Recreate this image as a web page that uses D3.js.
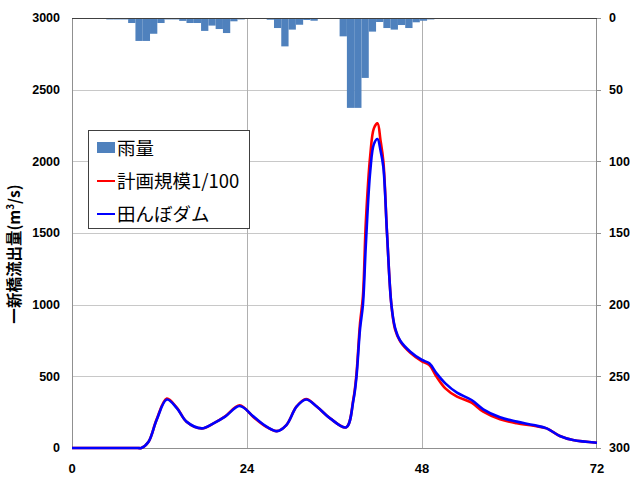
<!DOCTYPE html>
<html><head><meta charset="utf-8">
<script src="https://cdn.jsdelivr.net/npm/d3@7"></script>
<style>
body{margin:0;background:#fff;}
svg{display:block;}
</style></head>
<body>
<svg id="chart" width="630" height="477"></svg>
<script>
// ---- data ----
const seriesNames = ["雨量", "計画規模1/100", "田んぼダム"];
const hours = [0, 9, 9.5, 10.5, 11.6, 13, 14.4, 15.7, 17.8, 19.4, 21, 23, 24.9, 26.7, 28.1, 29.4, 30.8, 32.1, 33.6, 35.4, 37.6, 38.6, 39, 39.5, 39.9, 40.3, 40.9, 41.4, 41.9, 42.3, 42.7, 43.2, 43.8, 44.3, 45, 46.4, 48, 49, 50, 51.2, 52.8, 54.8, 56.4, 58.7, 61, 63.3, 65.1, 66.9, 68.7, 72];
const planFlow = [0, 0, 0, 44, 198, 345, 280, 184, 137, 172, 221, 298, 215, 146, 118, 160, 290, 342, 288, 207, 144, 345, 510, 870, 1060, 1580, 2040, 2230, 2265, 2150, 2000, 1500, 1000, 830, 745, 665, 605, 579, 497, 416, 358, 316, 253, 200, 172, 155, 137, 84, 56, 37];
const paddyFlow = [0, 0, 0, 44, 195, 338, 277, 184, 137, 172, 219, 293, 219, 149, 118, 160, 288, 338, 288, 207, 144, 335, 490, 830, 1000, 1420, 1930, 2120, 2156, 2080, 1960, 1500, 1000, 840, 750, 672, 614, 591, 521, 451, 386, 335, 270, 214, 184, 160, 137, 84, 56, 37];
const rainHours = [5, 6, 7, 8, 9, 10, 11, 12, 13, 14, 15, 16, 17, 18, 19, 20, 21, 22, 23, 27, 28, 29, 30, 31, 32, 33, 34, 35, 36, 37, 38, 39, 40, 41, 42, 43, 44, 45, 46, 47, 48, 49];
const rainfall = [1, 1, 1, 3.5, 16, 16, 11, 3.5, 1, 1, 2, 3.5, 3.5, 9, 5.3, 7.7, 10.5, 2.3, 1, 1.2, 7, 19.8, 8.1, 4.7, 1.4, 1.9, 0.7, 0.5, 0.5, 12.8, 62.7, 62.7, 41.8, 9.5, 2.8, 7, 8.1, 4.9, 7, 3, 1.9, 1];
const xTicks = [0, 24, 48, 72];
const yTicks = [0, 500, 1000, 1500, 2000, 2500, 3000];
const rainTicks = [0, 50, 100, 150, 200, 250, 300];

// ---- layout ----
const L = 72, R = 597, T = 18, B = 448;
const svg = d3.select("#chart");
const x = d3.scaleLinear().domain([0, 72]).range([L, R]);
const y = d3.scaleLinear().domain([0, 3000]).range([B, T]);
const yr = d3.scaleLinear().domain([0, 300]).range([T, B]);
const numFont = "'Liberation Sans', Arial, sans-serif";
const jpFont = "'Noto Sans CJK JP', sans-serif";

// gridlines
const g = svg.append("g");
g.selectAll("line.h").data(yTicks.filter(d => d > 0 && d < 3000)).join("line")
  .attr("x1", L).attr("x2", R).attr("y1", d => Math.round(y(d)) + 0.5).attr("y2", d => Math.round(y(d)) + 0.5)
  .attr("stroke", "#c8c8c8").attr("stroke-width", 1);
g.selectAll("line.v").data(xTicks.filter(d => d > 0 && d < 72)).join("line")
  .attr("x1", d => Math.round(x(d)) + 0.5).attr("x2", d => Math.round(x(d)) + 0.5).attr("y1", T).attr("y2", B)
  .attr("stroke", "#b0b0b0").attr("stroke-width", 1);

// rain bars (hanging from top)
svg.append("g").selectAll("rect").data(rainHours.map((h, i) => ({h, v: rainfall[i]}))).join("rect")
  .attr("x", d => x(d.h - 0.3))
  .attr("width", d => x(d.h + 0.7) - x(d.h - 0.3))
  .attr("y", yr(0))
  .attr("height", d => yr(d.v) - yr(0))
  .attr("fill", "#4f81bd");

// axes lines
svg.append("line").attr("x1", L + 0.5).attr("x2", L + 0.5).attr("y1", T).attr("y2", B).attr("stroke", "#909090");
svg.append("line").attr("x1", R - 0.5).attr("x2", R - 0.5).attr("y1", T).attr("y2", B).attr("stroke", "#909090");
svg.append("line").attr("x1", L).attr("x2", R).attr("y1", B + 0.5).attr("y2", B + 0.5).attr("stroke", "#909090");
svg.append("line").attr("x1", L).attr("x2", R).attr("y1", T + 0.5).attr("y2", T + 0.5).attr("stroke", "#404040");
// right axis outward ticks
svg.append("g").selectAll("line").data(rainTicks).join("line")
  .attr("x1", R).attr("x2", R + 4).attr("y1", d => Math.round(yr(d)) + 0.5).attr("y2", d => Math.round(yr(d)) + 0.5)
  .attr("stroke", "#909090");

// lines
const line = (vals) => d3.line().x((d, i) => x(hours[i])).y(d => y(d)).curve(d3.curveCatmullRom.alpha(0.5))(vals);
svg.append("path").attr("d", line(planFlow)).attr("fill", "none").attr("stroke", "#ff0000").attr("stroke-width", 2.6);
svg.append("path").attr("d", line(paddyFlow)).attr("fill", "none").attr("stroke", "#0000ff").attr("stroke-width", 2.6);

// tick labels
svg.append("g").selectAll("text").data(yTicks).join("text")
  .attr("x", 60).attr("y", d => y(d)).attr("dy", "0.35em").attr("text-anchor", "end")
  .attr("font-family", numFont).attr("font-weight", "bold").attr("font-size", 12.5).attr("fill", "#000")
  .text(d => d);
svg.append("g").selectAll("text").data(rainTicks).join("text")
  .attr("x", 609).attr("y", d => yr(d)).attr("dy", "0.35em").attr("text-anchor", "start")
  .attr("font-family", numFont).attr("font-weight", "bold").attr("font-size", 12.5).attr("fill", "#000")
  .text(d => d);
svg.append("g").selectAll("text").data(xTicks).join("text")
  .attr("x", d => x(d)).attr("y", 468).attr("dy", "0.35em").attr("text-anchor", "middle")
  .attr("font-family", numFont).attr("font-weight", "900").attr("font-size", 13).attr("fill", "#000")
  .text(d => d);

// y title
const yt = svg.append("text").attr("transform", "translate(20,254) rotate(-90)")
  .attr("text-anchor", "middle").attr("font-family", jpFont).attr("font-weight", "bold")
  .attr("font-size", 15.5).attr("fill", "#000");
yt.append("tspan").text("一新橋流出量(m");
yt.append("tspan").attr("font-size", 10).attr("dy", -6).text("3");
yt.append("tspan").attr("dy", 6).text("/s)");

// legend
const lg = svg.append("g");
lg.append("rect").attr("x", 88.5).attr("y", 130.5).attr("width", 161).attr("height", 98)
  .attr("fill", "#fff").attr("stroke", "#404040").attr("stroke-width", 1);
const legendY = [148, 181, 214];
lg.append("rect").attr("x", 97).attr("y", legendY[0] - 6).attr("width", 18).attr("height", 11).attr("fill", "#4f81bd");
lg.append("line").attr("x1", 97).attr("x2", 115).attr("y1", legendY[1]).attr("y2", legendY[1]).attr("stroke", "#ff0000").attr("stroke-width", 2);
lg.append("line").attr("x1", 97).attr("x2", 115).attr("y1", legendY[2]).attr("y2", legendY[2]).attr("stroke", "#0000ff").attr("stroke-width", 2);
lg.selectAll("text").data(seriesNames).join("text")
  .attr("x", 117).attr("y", (d, i) => legendY[i]).attr("dy", "0.36em")
  .attr("font-family", jpFont).attr("font-size", 18.5).attr("fill", "#000")
  .text(d => d);
</script>
</body></html>
